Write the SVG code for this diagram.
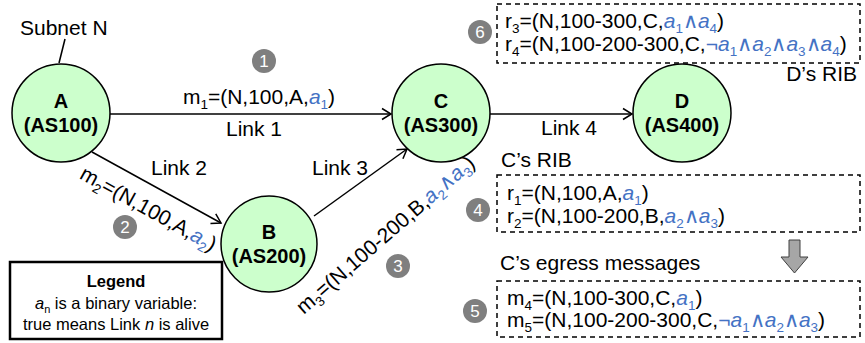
<svg xmlns="http://www.w3.org/2000/svg" width="865" height="343" viewBox="0 0 865 343">
<style>
text{font-family:"Liberation Sans",Arial,sans-serif;font-size:21px;fill:#000}
.nd circle{fill:#ccffcc;stroke:#000;stroke-width:1.5}
.nl{font-weight:bold;text-anchor:middle;font-size:20px}
.b{fill:#4472c4}
.i{font-style:italic}
.s{font-size:13.5px;font-style:normal}
.bd circle{fill:#7f7f7f}
.bd text{fill:#fff;font-size:17px;text-anchor:middle}
.box{fill:none;stroke:#000;stroke-width:1.5;stroke-dasharray:5 4}
.ln{stroke:#000;stroke-width:1.5;fill:none}
.lg{font-size:16.5px;text-anchor:middle}
</style>
<defs>
<marker id="arr" viewBox="-11 -7 13 14" refX="0" refY="0" markerWidth="13" markerHeight="14" markerUnits="userSpaceOnUse" orient="auto">
<path d="M-9,-5.5 L0,0 L-9,5.5" fill="none" stroke="#000" stroke-width="1.5"/>
</marker>
</defs>

<g id="connectors">
<line class="ln" x1="65" y1="39" x2="59" y2="63"/>
<line class="ln" x1="110" y1="114" x2="391" y2="114" marker-end="url(#arr)"/>
<line class="ln" x1="92" y1="152" x2="221" y2="223" marker-end="url(#arr)"/>
<line class="ln" x1="314" y1="216" x2="407" y2="149" marker-end="url(#arr)"/>
<line class="ln" x1="490" y1="114" x2="632" y2="114" marker-end="url(#arr)"/>
</g>

<g id="labels">
<text x="20" y="35">Subnet N</text>
<text x="259" y="104" text-anchor="middle">m<tspan class="s" dy="5">1</tspan><tspan dy="-5">=(N,100,A,</tspan><tspan class="b i">a</tspan><tspan class="b s" dy="5">1</tspan><tspan dy="-5">)</tspan></text>
<text x="254" y="136" text-anchor="middle">Link 1</text>
<text x="179" y="175" text-anchor="middle">Link 2</text>
<text x="340" y="175" text-anchor="middle">Link 3</text>
<text x="569" y="135" text-anchor="middle">Link 4</text>
<text transform="translate(145,215) rotate(29)" text-anchor="middle">m<tspan class="s" dy="5">2</tspan><tspan dy="-5">=(N,100,A,</tspan><tspan class="b i">a</tspan><tspan class="b s" dy="5">2</tspan><tspan dy="-5">)</tspan></text>
<text transform="translate(390,240) rotate(-41)" text-anchor="middle">m<tspan class="s" dy="5">3</tspan><tspan dy="-5">=(N,100-200,B,</tspan><tspan class="b i">a</tspan><tspan class="b s" dy="5">2</tspan><tspan class="b" dy="-5">∧</tspan><tspan class="b i">a</tspan><tspan class="b s" dy="5">3</tspan><tspan dy="-5">)</tspan></text>
</g>

<g id="A" class="nd"><circle cx="61" cy="113" r="49"/><text class="nl" x="61" y="108">A</text><text class="nl" x="61" y="132">(AS100)</text></g>
<g id="B" class="nd"><circle cx="269" cy="244" r="48"/><text class="nl" x="269" y="239">B</text><text class="nl" x="269" y="263">(AS200)</text></g>
<g id="C" class="nd"><circle cx="441" cy="113" r="49"/><text class="nl" x="441" y="108">C</text><text class="nl" x="441" y="132">(AS300)</text></g>
<g id="D" class="nd"><circle cx="682" cy="113" r="49"/><text class="nl" x="682" y="108">D</text><text class="nl" x="682" y="132">(AS400)</text></g>

<g id="badge1" class="bd"><circle cx="264" cy="61" r="12"/><text x="264" y="67">1</text></g>
<g id="badge2" class="bd"><circle cx="125" cy="227" r="12"/><text x="125" y="233">2</text></g>
<g id="badge3" class="bd"><circle cx="398" cy="266" r="12"/><text x="398" y="272">3</text></g>
<g id="badge4" class="bd"><circle cx="478" cy="210" r="12"/><text x="478" y="216">4</text></g>
<g id="badge5" class="bd"><circle cx="475" cy="311" r="12"/><text x="475" y="317">5</text></g>
<g id="badge6" class="bd"><circle cx="480" cy="32" r="12"/><text x="480" y="38">6</text></g>

<g id="DRIB">
<rect class="box" x="497" y="4" width="363" height="59"/>
<text x="505" y="28">r<tspan class="s" dy="5">3</tspan><tspan dy="-5">=(N,100-300,C,</tspan><tspan class="b i">a</tspan><tspan class="b s" dy="5">1</tspan><tspan class="b" dy="-5">∧</tspan><tspan class="b i">a</tspan><tspan class="b s" dy="5">4</tspan><tspan dy="-5">)</tspan></text>
<text x="505" y="51">r<tspan class="s" dy="5">4</tspan><tspan dy="-5">=(N,100-200-300,C,</tspan><tspan class="b">¬</tspan><tspan class="b i">a</tspan><tspan class="b s" dy="5">1</tspan><tspan class="b" dy="-5">∧</tspan><tspan class="b i">a</tspan><tspan class="b s" dy="5">2</tspan><tspan class="b" dy="-5">∧</tspan><tspan class="b i">a</tspan><tspan class="b s" dy="5">3</tspan><tspan class="b" dy="-5">∧</tspan><tspan class="b i">a</tspan><tspan class="b s" dy="5">4</tspan><tspan dy="-5">)</tspan></text>
<text x="857" y="81" text-anchor="end">D’s RIB</text>
</g>

<g id="CRIB">
<text x="501" y="167">C’s RIB</text>
<rect class="box" x="497" y="175" width="363" height="57"/>
<text x="507" y="200">r<tspan class="s" dy="5">1</tspan><tspan dy="-5">=(N,100,A,</tspan><tspan class="b i">a</tspan><tspan class="b s" dy="5">1</tspan><tspan dy="-5">)</tspan></text>
<text x="507" y="223">r<tspan class="s" dy="5">2</tspan><tspan dy="-5">=(N,100-200,B,</tspan><tspan class="b i">a</tspan><tspan class="b s" dy="5">2</tspan><tspan class="b" dy="-5">∧</tspan><tspan class="b i">a</tspan><tspan class="b s" dy="5">3</tspan><tspan dy="-5">)</tspan></text>
</g>

<g id="flow"><polygon points="789,240 800,240 800,257 808,257 794.5,273 781,257 789,257" fill="#a6a6a6" stroke="#404040" stroke-width="1"/></g>

<g id="CEGRESS">
<text x="500" y="270">C’s egress messages</text>
<rect class="box" x="497" y="281" width="363" height="56"/>
<text x="507" y="305">m<tspan class="s" dy="5">4</tspan><tspan dy="-5">=(N,100-300,C,</tspan><tspan class="b i">a</tspan><tspan class="b s" dy="5">1</tspan><tspan dy="-5">)</tspan></text>
<text x="507" y="327">m<tspan class="s" dy="5">5</tspan><tspan dy="-5">=(N,100-200-300,C,</tspan><tspan class="b">¬</tspan><tspan class="b i">a</tspan><tspan class="b s" dy="5">1</tspan><tspan class="b" dy="-5">∧</tspan><tspan class="b i">a</tspan><tspan class="b s" dy="5">2</tspan><tspan class="b" dy="-5">∧</tspan><tspan class="b i">a</tspan><tspan class="b s" dy="5">3</tspan><tspan dy="-5">)</tspan></text>
</g>

<g id="legend">
<rect x="10" y="262" width="212" height="77" fill="#fff" stroke="#000" stroke-width="2.5"/>
<text class="lg" x="116" y="287" font-weight="bold">Legend</text>
<text class="lg" x="116" y="309"><tspan class="i">a</tspan><tspan font-size="11px" dy="4">n</tspan><tspan dy="-4"> is a binary variable:</tspan></text>
<text class="lg" x="116" y="330">true means Link <tspan class="i">n</tspan> is alive</text>
</g>
</svg>
